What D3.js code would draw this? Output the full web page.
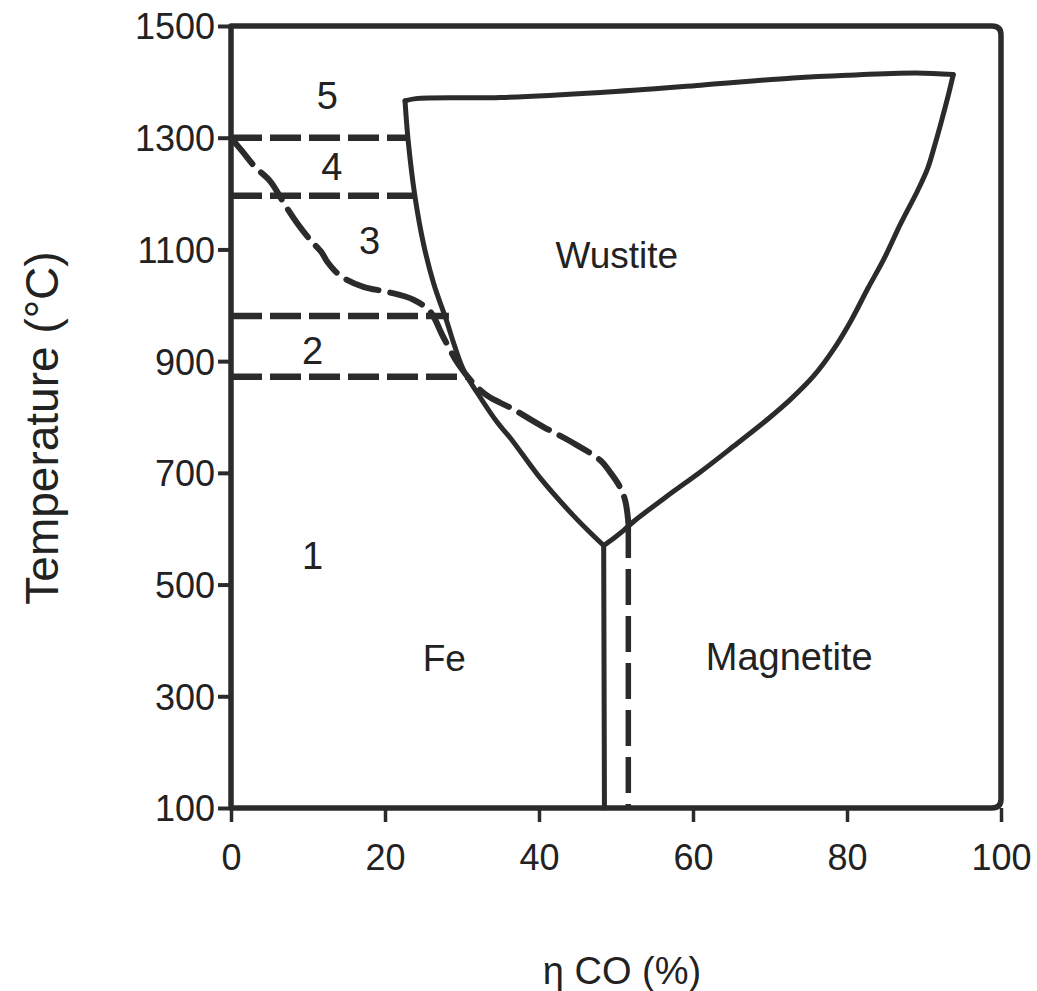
<!DOCTYPE html>
<html>
<head>
<meta charset="utf-8">
<script src="https://cdn.jsdelivr.net/npm/d3@7"></script>
<style>
  html, body { margin: 0; padding: 0; background: #fff; }
  svg { display: block; font-family: "Liberation Sans", Arial, sans-serif; }
</style>
</head>
<body>
<svg id="chart" width="1037" height="991"></svg>
<script>
// ---------------- data ----------------
const xTicks = [0, 20, 40, 60, 80, 100];
const xTickLabels = ["0", "20", "40", "60", "80", "100"];
const yTicks = [100, 300, 500, 700, 900, 1100, 1300, 1500];
const yTickLabels = ["100", "300", "500", "700", "900", "1100", "1300", "1500"];

// Wustite field boundary (η CO %, °C)
const wustiteTop = [[22.6, 1366], [24, 1370], [35, 1372], [48, 1381], [61, 1394], [73, 1407], [80, 1412], [89, 1416], [93.8, 1413]];
const wustiteRight = [[93.8, 1413], [93.1, 1373], [92.2, 1326], [91.3, 1282], [90.5, 1246], [89.2, 1206], [87.0, 1147],
  [84.8, 1083], [82.7, 1030], [80.5, 972], [78.3, 922], [75.7, 874], [72.7, 832], [69.7, 796], [65.3, 748],
  [61.0, 702], [56.7, 659], [52.3, 613], [51.0, 597], [49.8, 584], [48.4, 570]];
const wustiteLeft = [[22.6, 1366], [23.0, 1296], [23.9, 1194], [25.0, 1110], [26.3, 1040], [28.1, 968], [28.9, 933],
  [30.2, 884], [32.0, 843], [34.6, 790], [36.3, 762], [40.2, 690], [44.5, 623], [47.1, 587], [48.4, 570]];

// Fe / Magnetite boundary (solid) and second system (dashed)
const feMagnetiteSolid = [[48.4, 570], [48.5, 100]];
const feMagnetiteDashed = [[51.6, 612], [51.6, 100]];
const dashedCurve = [[0, 1300], [1.5, 1275], [3.1, 1248], [5.1, 1222], [7.0, 1180], [8.6, 1147], [10.3, 1117],
  [11.8, 1094], [12.5, 1078], [14.2, 1053], [17.2, 1033], [20.3, 1024], [23.7, 1010], [25.9, 988],
  [27.5, 945], [29.5, 895], [31.5, 860], [33.3, 838], [36.5, 815], [40.6, 782], [44.0, 757],
  [48.0, 722], [49.3, 700], [50.5, 675], [51.2, 650], [51.6, 612]];

// isotherms (dashed horizontals)
const isothermTemps = [1300, 1196, 981, 872];
const isothermEnds = [23.0, 24.0, 28.3, 30.5];

// region labels
const regionLabels = ["5", "4", "3", "2", "1", "Fe", "Magnetite", "Wustite"];
const regionX = [12.5, 13.1, 18.0, 10.6, 10.6, 27.7, 72.5, 50.1];
const regionY = [1376, 1248, 1117, 920, 553, 370, 372, 1090];
const regionSize = [38, 38, 38, 38, 38, 37, 38, 37];

const xTitle = "η CO (%)";
const yTitle = "Temperature (°C)";

// ---------------- drawing ----------------
const ink = "#2b2b2b";
const svg = d3.select("#chart");
const x = d3.scaleLinear().domain([0, 100]).range([231, 1001]);
const y = d3.scaleLinear().domain([100, 1500]).range([808, 26]);

const line = d3.line().x(d => x(d[0])).y(d => y(d[1]));
const smooth = d3.line().x(d => x(d[0])).y(d => y(d[1])).curve(d3.curveCatmullRom.alpha(0.5));

// frame
const x0 = x(0), x1 = x(100), y0 = y(100), y1 = y(1500), r = 9;
svg.append("path")
  .attr("d", `M${x0},${y1} L${x1 - r},${y1} Q${x1},${y1} ${x1},${y1 + r} L${x1},${y0 - r} Q${x1},${y0} ${x1 - r},${y0} L${x0},${y0} Z`)
  .attr("fill", "none").attr("stroke", ink).attr("stroke-width", 5.5).attr("stroke-linejoin", "round");

// axes
const yAxis = d3.axisLeft(y).tickValues(yTicks).tickFormat((d, i) => yTickLabels[i]).tickSize(13).tickPadding(3);
const gy = svg.append("g").attr("transform", `translate(${x0},0)`).call(yAxis);
gy.select(".domain").remove();
gy.selectAll(".tick line").attr("stroke", ink).attr("stroke-width", 4);
gy.selectAll(".tick text").attr("fill", "#222").attr("font-size", 36)
  .attr("font-family", "'Liberation Sans', Arial, sans-serif").attr("dy", "0.36em");

const xAxis = d3.axisBottom(x).tickValues(xTicks).tickFormat((d, i) => xTickLabels[i]).tickSize(14).tickPadding(22);
const gx = svg.append("g").attr("transform", `translate(0,${y0})`).call(xAxis);
gx.select(".domain").remove();
gx.selectAll(".tick line").attr("stroke", ink).attr("stroke-width", 3.5);
gx.selectAll(".tick text").attr("fill", "#222").attr("font-size", 36)
  .attr("font-family", "'Liberation Sans', Arial, sans-serif").attr("dy", "0.71em");

// wustite boundary
const solidStyle = sel => sel.attr("fill", "none").attr("stroke", ink).attr("stroke-width", 5)
  .attr("stroke-linejoin", "round").attr("stroke-linecap", "round");
svg.append("path").datum(wustiteTop).attr("d", smooth).call(solidStyle);
svg.append("path").datum(wustiteRight).attr("d", smooth).call(solidStyle);
svg.append("path").datum(wustiteLeft).attr("d", smooth).call(solidStyle);
svg.append("path").datum(feMagnetiteSolid).attr("d", line).call(solidStyle);

// dashed system
svg.append("path").datum(feMagnetiteDashed).attr("d", line)
  .attr("fill", "none").attr("stroke", ink).attr("stroke-width", 5.5).attr("stroke-dasharray", "36,11");
svg.append("path").datum(dashedCurve).attr("d", smooth)
  .attr("fill", "none").attr("stroke", ink).attr("stroke-width", 6).attr("stroke-dasharray", "34,12")
  .attr("stroke-linecap", "round");

// isotherms
svg.append("g").selectAll("path").data(isothermTemps).join("path")
  .attr("d", (t, i) => line([[0, t], [isothermEnds[i], t]]))
  .attr("fill", "none").attr("stroke", ink).attr("stroke-width", 6.5).attr("stroke-dasharray", "31,8");

// region labels
svg.append("g").selectAll("text").data(regionLabels).join("text")
  .attr("x", (d, i) => x(regionX[i])).attr("y", (d, i) => y(regionY[i]))
  .attr("dy", "0.36em").attr("text-anchor", "middle")
  .attr("font-size", (d, i) => regionSize[i]).attr("fill", "#222")
  .text(d => d);

// axis titles
svg.append("text").attr("x", 622).attr("y", 984).attr("text-anchor", "middle")
  .attr("font-size", 38).attr("fill", "#222").text(xTitle);
svg.append("text").attr("transform", "translate(58,428) rotate(-90)").attr("text-anchor", "middle")
  .attr("font-size", 46).attr("fill", "#222").text(yTitle);
</script>
</body>
</html>
